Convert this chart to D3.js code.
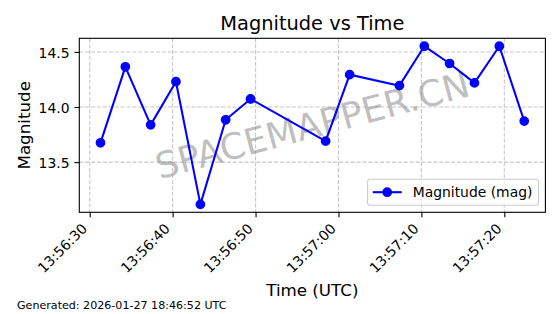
<!DOCTYPE html>
<html>
<head>
<meta charset="utf-8">
<script src="https://cdn.jsdelivr.net/npm/d3@7"></script>
<style>
  html, body { margin: 0; padding: 0; background: #ffffff; }
  svg { display: block; font-family: "DejaVu Sans", sans-serif; }
</style>
</head>
<body>
<script>
// ---- data ----
const times = ["13:56:31.300", "13:56:34.300", "13:56:37.350", "13:56:40.400", "13:56:43.350",
               "13:56:46.400", "13:56:49.400", "13:56:58.450", "13:57:01.350", "13:57:07.350",
               "13:57:10.350", "13:57:13.400", "13:57:16.400", "13:57:19.400", "13:57:22.400"];
const magnitudes = [13.675, 14.365, 13.838, 14.23, 13.116,
                    13.884, 14.073, 13.69, 14.294, 14.194,
                    14.552, 14.395, 14.219, 14.552, 13.872];
const xTickLabels = ["13:56:30", "13:56:40", "13:56:50", "13:57:00", "13:57:10", "13:57:20"];
const yTickValues = [13.5, 14.0, 14.5];
const titleText = "Magnitude vs Time";
const xLabelText = "Time (UTC)";
const yLabelText = "Magnitude";
const legendText = "Magnitude (mag)";
const footerText = "Generated: 2026-01-27 18:46:52 UTC";
const watermarkText = "SPACEMAPPER.CN";

(function () {
// ---- layout ----
const W = 560, H = 314;
const pL = 79.3, pR = 545.4, pT = 38.3, pB = 212.3;
const blue = "#0000ff";

const parseMs = d3.utcParse("%H:%M:%S.%L");
const parseS = d3.utcParse("%H:%M:%S");
const data = times.map((t, i) => ({ t: parseMs(t), v: magnitudes[i] }));
const xTicks = xTickLabels.map(parseS);

// matplotlib-like 5% margins
const tExt = d3.extent(data, d => +d.t);
const tPad = (tExt[1] - tExt[0]) * 0.05;
const vExt = d3.extent(data, d => d.v);
const vPad = (vExt[1] - vExt[0]) * 0.05;

const x = d3.scaleUtc().domain([new Date(tExt[0] - tPad), new Date(tExt[1] + tPad)]).range([pL, pR]);
const y = d3.scaleLinear().domain([vExt[0] - vPad, vExt[1] + vPad]).range([pB, pT]);

const svg = d3.select("body").append("svg").attr("width", W).attr("height", H);
svg.append("rect").attr("width", W).attr("height", H).attr("fill", "#fff");

// grid
const grid = svg.append("g");
grid.selectAll("line.gx").data(xTicks).join("line")
  .attr("x1", d => x(d)).attr("x2", d => x(d)).attr("y1", pT).attr("y2", pB)
  .attr("stroke", "#b0b0b0").attr("stroke-opacity", 0.7).attr("stroke-width", 1.1)
  .attr("stroke-dasharray", "4.1,1.8");
grid.selectAll("line.gy").data(yTickValues).join("line")
  .attr("x1", pL).attr("x2", pR).attr("y1", d => y(d)).attr("y2", d => y(d))
  .attr("stroke", "#b0b0b0").attr("stroke-opacity", 0.7).attr("stroke-width", 1.1)
  .attr("stroke-dasharray", "4.1,1.8");

// watermark
const cx = (pL + pR) / 2, cy = (pT + pB) / 2;
svg.append("text")
  .attr("transform", `translate(${cx},${cy}) rotate(-15)`)
  .attr("text-anchor", "middle").attr("dominant-baseline", "central")
  .attr("font-size", 36).attr("fill", "#808080").attr("fill-opacity", 0.5)
  .text(watermarkText);

// line + markers
svg.append("path").datum(data)
  .attr("fill", "none").attr("stroke", blue).attr("stroke-width", 2.08)
  .attr("stroke-linejoin", "round").attr("stroke-linecap", "butt")
  .attr("d", d3.line().x(d => x(d.t)).y(d => y(d.v)));
svg.append("g").selectAll("circle").data(data).join("circle")
  .attr("cx", d => x(d.t)).attr("cy", d => y(d.v)).attr("r", 4.17)
  .attr("fill", blue).attr("stroke", blue).attr("stroke-width", 1.39);

// axes
const tickFmt = d3.utcFormat("%H:%M:%S");
const xAxis = svg.append("g").attr("transform", `translate(0,${pB})`)
  .call(d3.axisBottom(x).tickValues(xTicks).tickFormat(tickFmt).tickSize(4.9).tickPadding(4.9));
xAxis.select(".domain").remove();
xAxis.selectAll(".tick line").attr("stroke", "#000").attr("stroke-width", 1.1);
xAxis.selectAll(".tick text")
  .attr("font-size", 13.9).attr("font-family", "DejaVu Sans").attr("fill", "#000")
  .attr("x", 0).attr("y", 0).attr("dy", null)
  .attr("text-anchor", "end")
  .attr("transform", "translate(-2.3,17.3) rotate(-45)");

const yAxis = svg.append("g").attr("transform", `translate(${pL},0)`)
  .call(d3.axisLeft(y).tickValues(yTickValues).tickFormat(d3.format(".1f")).tickSize(4.9).tickPadding(4.9));
yAxis.select(".domain").remove();
yAxis.selectAll(".tick line").attr("stroke", "#000").attr("stroke-width", 1.1);
yAxis.selectAll(".tick text")
  .attr("font-size", 13.9).attr("font-family", "DejaVu Sans").attr("fill", "#000")
  .attr("dy", "0.38em");

// frame
svg.append("rect").attr("x", pL).attr("y", pT).attr("width", pR - pL).attr("height", pB - pT)
  .attr("fill", "none").attr("stroke", "#000").attr("stroke-width", 1.1);

// legend
const lg = svg.append("g");
const lx0 = 367.5, ly0 = 179.2, lw = 171, lh = 26;
lg.append("rect").attr("x", lx0).attr("y", ly0).attr("width", lw).attr("height", lh)
  .attr("rx", 2.8).attr("ry", 2.8)
  .attr("fill", "#fff").attr("fill-opacity", 0.8)
  .attr("stroke", "#cccccc").attr("stroke-width", 1.1);
const lyc = ly0 + lh / 2;
lg.append("line").attr("x1", 372.7).attr("x2", 401.7).attr("y1", lyc).attr("y2", lyc)
  .attr("stroke", blue).attr("stroke-width", 2.08);
lg.append("circle").attr("cx", 387.2).attr("cy", lyc).attr("r", 4.17)
  .attr("fill", blue).attr("stroke", blue).attr("stroke-width", 1.39);
lg.append("text").attr("x", 412.7).attr("y", lyc).attr("dy", "0.36em")
  .attr("font-size", 13.9).attr("fill", "#000").text(legendText);

// titles
svg.append("text").attr("x", (pL + pR) / 2).attr("y", 30)
  .attr("text-anchor", "middle").attr("font-size", 19.4).attr("fill", "#000").text(titleText);
svg.append("text").attr("x", (pL + pR) / 2).attr("y", 296)
  .attr("text-anchor", "middle").attr("font-size", 16.7).attr("fill", "#000").text(xLabelText);
svg.append("text").attr("transform", `translate(30,${(pT + pB) / 2}) rotate(-90)`)
  .attr("text-anchor", "middle").attr("font-size", 16.7).attr("fill", "#000").text(yLabelText);
svg.append("text").attr("x", 17).attr("y", 309)
  .attr("font-size", 11.1).attr("fill", "#000").text(footerText);
})();
</script>
</body>
</html>
